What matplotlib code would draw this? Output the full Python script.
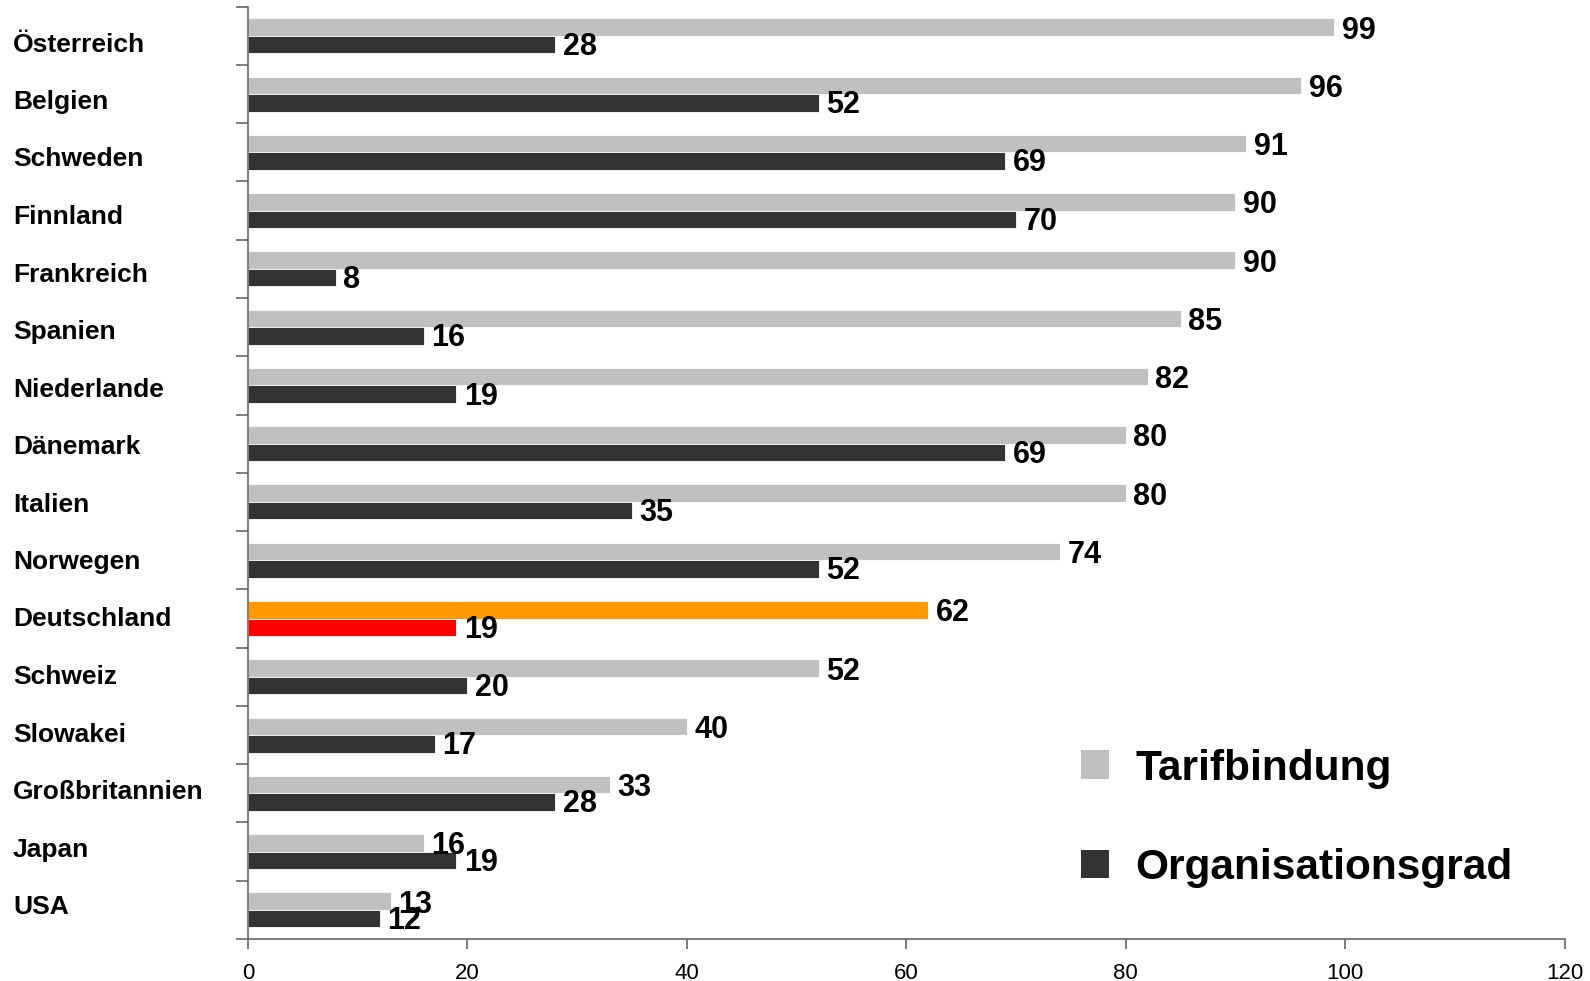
import matplotlib
matplotlib.use("Agg")
import matplotlib.pyplot as plt
from matplotlib.patches import Patch

plt.rcParams['font.family'] = ['Liberation Sans', 'DejaVu Sans']

countries = ["Österreich", "Belgien", "Schweden", "Finnland", "Frankreich", "Spanien",
             "Niederlande", "Dänemark", "Italien", "Norwegen", "Deutschland", "Schweiz",
             "Slowakei", "Großbritannien", "Japan", "USA"]
tarifbindung = [99, 96, 91, 90, 90, 85, 82, 80, 80, 74, 62, 52, 40, 33, 16, 13]
organisationsgrad = [28, 52, 69, 70, 8, 16, 19, 69, 35, 52, 19, 20, 17, 28, 19, 12]
x_ticks = [0, 20, 40, 60, 80, 100, 120]

GREY = "#C0C0C0"
DARK = "#333333"
ORANGE = "#FF9900"
RED = "#FF0000"

W, H = 1590, 981
fig = plt.figure(figsize=(W / 100, H / 100), dpi=100)
ax = fig.add_axes([0.156, 0.0428, 0.828, 0.9504])

n = len(countries)
pos = list(range(n))
h = 0.3
highlight = "Deutschland"
c_tarif = [ORANGE if c == highlight else GREY for c in countries]
c_org = [RED if c == highlight else DARK for c in countries]

ax.barh([p - h / 2 for p in pos], tarifbindung, height=h, color=c_tarif,
        edgecolor="white", linewidth=0.6)
ax.barh([p + h / 2 for p in pos], organisationsgrad, height=h, color=c_org,
        edgecolor="white", linewidth=0.6)

for p, v in zip(pos, tarifbindung):
    ax.text(v + 0.7, p - h / 2 + 0.06, str(v), va="center", ha="left",
            fontsize=22, fontweight="bold", color="black")
for p, v in zip(pos, organisationsgrad):
    ax.text(v + 0.7, p + h / 2 + 0.04, str(v), va="center", ha="left",
            fontsize=22, fontweight="bold", color="black")

ax.set_xlim(0, 120)
ax.set_ylim(n - 0.5, -0.5)
ax.set_xticks(x_ticks)
ax.set_xticklabels([str(t) for t in x_ticks], fontsize=16)
ax.tick_params(axis="x", direction="out", length=7, width=1.2, color="#666666", pad=10)

ax.set_yticks([p - 0.5 for p in range(n + 1)])
ax.set_yticklabels([])
ax.tick_params(axis="y", direction="out", length=9, width=1.2, color="#666666")

# country names in a fixed column on the left, evenly spaced
label_top_px = 44.5
label_step_px = 57.5
for i, name in enumerate(countries):
    y_px = label_top_px + i * label_step_px
    fig.text(13 / W, 1 - y_px / H, name, ha="left", va="center",
             fontsize=19, fontweight="bold", color="black")

for side in ("top", "right"):
    ax.spines[side].set_visible(False)
for side in ("left", "bottom"):
    ax.spines[side].set_color("#666666")
    ax.spines[side].set_linewidth(1.2)

handles = [Patch(facecolor=GREY, edgecolor="none"), Patch(facecolor=DARK, edgecolor="none")]
fig.legend(handles, ["Tarifbindung", "Organisationsgrad"], loc="upper left",
           bbox_to_anchor=(0.680, 0.237), frameon=False,
           prop={"size": 30.5, "weight": "bold"},
           handlelength=0.66, handleheight=0.66, handletextpad=0.62,
           labelspacing=1.4, borderpad=0, borderaxespad=0)

fig.savefig("out.png", dpi=100)
